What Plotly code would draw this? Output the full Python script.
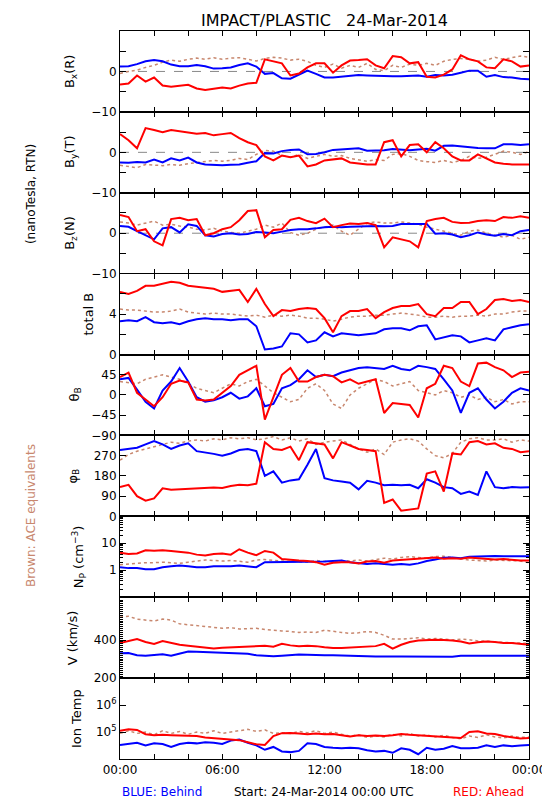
import plotly.graph_objects as go
from plotly.subplots import make_subplots

HOURS = [0, 0.5, 1, 1.5, 2, 2.5, 3, 3.5, 4, 4.5, 5, 5.5, 6, 6.5, 7, 7.5, 8, 8.5, 9, 9.5,
         10, 10.5, 11, 11.5, 12, 12.5, 13, 13.5, 14, 14.5, 15, 15.5, 16, 16.5, 17, 17.5,
         18, 18.5, 19, 19.5, 20, 20.5, 21, 21.5, 22, 22.5, 23, 23.5, 24]

BX_BEHIND = [1.2, 1.3, 1.8, 2.5, 2.8, 2.5, 1.7, 1.3, 1.3, 1.6, 1.3, 0.7, 0.8, 1.0, 1.6, 2.0, 1.2, -0.6, -0.4, -1.7, -1.8, -0.8, 0.2, -0.6, -1.5, -1.5, -1.3, -1.2, -0.9, -1.0, -1.1, -1.2, -1.2, -1.2, -1.1, -1.0, -1.3, -0.9, -1.0, -0.8, -0.3, 0.2, 0.2, -1.3, -0.9, -1.4, -1.5, -1.8, -1.9]
BX_AHEAD = [-3.2, -3.0, -1.0, -2.5, -1.5, -3.5, -3.8, -3.5, -3.3, -4.2, -4.6, -4.3, -4.0, -4.2, -3.5, -3.0, -2.8, 3.0, 2.5, 2.0, -1.0, -0.5, 1.0, 2.0, 2.0, -0.3, 1.5, 2.7, 2.8, 3.0, 1.5, 0.8, 3.8, 3.5, 2.0, 2.3, -1.3, -1.5, -0.8, 0.5, 4.0, 3.0, 2.5, 1.0, 0.8, 3.0, 2.5, 1.2, 1.5]
BX_ACE = [-0.5, 0.0, 0.3, 1.0, 1.5, 2.3, 2.8, 2.5, 3.0, 3.3, 3.0, 3.4, 3.0, 3.3, 3.4, 3.0, 2.6, 3.2, 3.5, 3.3, 2.8, 3.0, 2.5, 1.5, 1.0, 1.8, 0.8, 1.5, 1.0, 2.0, 0.5, 0.2, 1.5, 1.0, 1.8, 1.5, 2.0, 1.5, 2.5, 3.0, 3.2, 3.0, 2.5, 2.8, 3.5, 3.0, 3.4, 3.8, 3.5]

BY_BEHIND = [-2.5, -2.6, -2.4, -2.5, -1.8, -2.5, -1.5, -2.0, -1.3, -2.5, -3.0, -3.1, -3.2, -3.1, -3.0, -2.6, -2.2, -0.2, -0.3, 0.3, 0.6, 0.7, -0.5, -0.4, 0.0, 0.6, 0.7, 0.8, 1.0, 0.4, 0.4, 0.5, 0.8, 0.6, 0.5, 0.7, 0.9, 0.4, 1.6, 1.7, 1.5, 1.2, 1.1, 1.0, 1.0, 2.0, 2.0, 1.8, 2.0]
BY_AHEAD = [4.5, 3.0, 1.0, 6.0, 5.5, 5.0, 5.5, 5.2, 4.8, 4.6, 4.8, 4.2, 4.5, 4.8, 3.5, 2.5, 1.8, -1.0, -2.0, -0.8, -1.2, -0.8, -3.5, -3.0, -2.0, -1.8, -1.5, -2.5, -2.8, -3.0, -3.0, 2.5, 3.0, -1.0, 1.8, 2.0, 0.0, 2.5, 1.0, -1.0, -2.0, -2.0, -0.5, -1.5, -2.5, -2.8, -3.0, -3.0, -3.0]
BY_ACE = [-3.2, -3.5, -3.8, -3.0, -3.2, -3.3, -3.0, -3.2, -2.8, -2.5, -2.3, -2.0, -2.2, -2.0, -1.5, -1.8, -0.5, 0.5, 0.3, -0.8, -1.2, -0.5, -1.5, -1.0, -0.5, -1.0, -0.8, -1.5, -1.8, -2.2, -1.8, -2.0, -0.5, -0.3, -1.0, -2.0, -2.3, -2.5, -2.0, -2.5, -2.0, -1.0, -1.5, -1.2, -0.5, 0.3, 0.0, -0.5, 0.2]

BZ_BEHIND = [1.8, 1.6, 0.5, -0.5, -1.5, 1.2, 1.5, 0.2, 2.2, 1.8, -0.5, -0.8, -0.2, 0.0, -0.3, -0.2, 0.3, 0.2, 0.0, 0.4, 0.8, 1.0, 1.0, 1.2, 1.5, 1.6, 1.5, 1.6, 1.7, 1.7, 1.8, 1.7, 1.8, 2.3, 2.3, 2.3, 2.3, -0.1, 0.0, -0.3, -1.0, -0.5, 0.2, -0.3, -0.6, -0.2, -0.5, 0.5, 0.8]
BZ_AHEAD = [4.5, 4.0, 0.5, 1.0, -2.0, -3.0, 3.5, 3.8, 3.2, 3.5, -0.5, 0.0, 1.0, 1.5, 3.2, 5.5, 5.7, -1.0, 0.8, 1.0, 3.3, 3.8, 3.0, 2.5, 3.6, 1.5, 2.0, 2.4, 2.3, 2.5, 2.0, -3.5, -1.0, -1.5, -2.0, -3.5, 3.0, 3.5, 3.8, 2.8, 2.5, 2.6, 3.0, 3.2, 3.0, 4.0, 3.8, 4.2, 3.8]
BZ_ACE = [2.8, 2.5, 2.0, 2.5, 3.0, 2.0, 2.2, 1.8, 1.5, 1.0, 0.8, 1.2, 0.5, 0.2, 0.0, 0.5, 1.0, 2.0, 1.5, 2.5, 0.2, -0.5, 0.0, 1.0, 1.5, 2.0, 0.5, -0.5, 1.0, 2.5, 2.8, 2.5, 2.5, 2.8, 2.5, 2.2, 1.5, 1.0, 0.5, 0.0, -0.5, 0.5, 0.8, 0.0, -0.5, -1.0, -0.5, -1.5, -1.0]

BT_BEHIND = [3.3, 3.4, 3.3, 3.7, 3.2, 3.1, 3.2, 3.0, 3.3, 3.5, 3.6, 3.5, 3.5, 3.4, 3.5, 3.5, 2.8, 0.5, 0.6, 0.8, 2.1, 2.0, 1.2, 1.4, 2.2, 1.8, 2.1, 2.0, 1.9, 2.0, 2.1, 2.5, 2.6, 2.6, 2.4, 2.8, 2.9, 1.5, 1.7, 1.9, 1.8, 1.2, 1.4, 1.6, 1.4, 2.5, 2.7, 2.9, 3.0]
BT_AHEAD = [6.2, 6.0, 6.3, 6.8, 6.8, 7.0, 7.2, 7.1, 6.8, 6.7, 6.6, 6.5, 6.2, 6.3, 6.4, 5.2, 6.5, 5.0, 3.8, 4.4, 4.3, 4.5, 4.6, 4.5, 3.6, 2.2, 3.8, 4.3, 4.3, 4.5, 3.6, 4.2, 4.6, 4.8, 4.8, 5.0, 4.0, 3.8, 4.6, 4.6, 5.2, 5.2, 4.0, 4.5, 5.4, 5.5, 5.3, 5.4, 5.2]
BT_ACE = [4.5, 4.4, 4.4, 4.3, 4.2, 4.2, 4.3, 4.5, 4.2, 4.1, 4.0, 4.1, 4.0, 4.0, 3.9, 3.8, 3.9, 3.7, 3.9, 3.8, 3.9, 3.8, 3.6, 3.6, 3.5, 3.3, 3.5, 3.7, 3.8, 3.8, 3.9, 3.9, 4.0, 4.1, 4.0, 3.9, 3.7, 3.7, 3.8, 3.7, 3.8, 3.8, 3.9, 3.8, 4.0, 4.0, 4.2, 4.3, 4.3]

TH_BEHIND = [35, 38, 12, -15, -30, 10, 30, 60, 30, -5, -15, -12, -5, 5, -8, -3, 15, -25, -20, 15, 22, 35, 55, 40, 45, 42, 50, 55, 60, 62, 60, 58, 65, 58, 55, 65, 62, 58, 35, 10, -40, 5, 15, -10, -30, -15, 5, 15, 10]
TH_AHEAD = [40, 50, 5, -10, -25, -5, 25, 32, 28, -10, -12, -10, 5, 20, 45, 55, 65, -55, -5, 45, 60, 30, 30, 40, 45, 42, 28, 35, 25, 30, 35, -40, -18, -20, -22, -50, 15, 25, 65, 60, 30, 20, 70, 72, 62, 55, 40, 50, 52]
TH_ACE = [30, 28, 25, 35, 40, 45, 40, 35, 25, 15, 10, 5, 15, 25, 20, 30, 35, 20, 5, -5, -15, -10, 15, 25, 10, -20, -30, 0, 15, 25, 35, 30, 20, 25, 30, 10, 5, 0, 10, 5, -5, 0, -10, -5, -15, -10, -20, -15, -15]

PH_BEHIND = [295, 300, 305, 320, 335, 320, 300, 315, 325, 290, 285, 278, 270, 280, 295, 300, 290, 180, 200, 150, 160, 165, 230, 300, 170, 160, 155, 150, 120, 158, 150, 138, 140, 138, 140, 125, 165, 150, 130, 125, 100, 110, 95, 200, 130, 125, 130, 128, 130]
PH_AHEAD = [130, 140, 90, 70, 80, 125, 118, 120, 120, 122, 125, 128, 126, 135, 140, 138, 145, 330, 300, 295, 310, 250, 330, 325, 320, 258, 330, 315, 300, 295, 290, 60, 75, 25, 30, 35, 190, 200, 110, 280, 275, 330, 335, 320, 325, 305, 300, 285, 290]
PH_ACE = [250, 275, 290, 300, 310, 320, 330, 325, 335, 340, 335, 345, 340, 350, 345, 350, 340, 345, 355, 340, 350, 335, 345, 320, 330, 335, 340, 320, 300, 285, 300, 275, 330, 340, 345, 335, 300, 270, 260, 280, 330, 345, 350, 340, 340, 345, 330, 340, 335]

NP_BEHIND = [1.3, 1.2, 1.2, 1.1, 1.1, 1.3, 1.4, 1.5, 1.4, 1.3, 1.3, 1.4, 1.4, 1.4, 1.5, 1.4, 1.3, 2.0, 2.0, 2.0, 2.0, 2.0, 2.1, 2.0, 2.1, 2.2, 2.3, 2.0, 1.8, 1.7, 1.8, 1.7, 1.6, 1.7, 1.6, 1.8, 2.2, 2.5, 2.9, 3.0, 2.8, 3.2, 3.3, 3.4, 3.4, 3.3, 3.3, 3.2, 3.3]
NP_AHEAD = [4.5, 4.0, 4.2, 5.5, 5.3, 5.5, 5.2, 4.8, 4.5, 3.8, 3.5, 4.0, 4.2, 3.8, 6.0, 4.5, 3.6, 5.2, 4.5, 2.6, 2.4, 2.3, 2.2, 2.0, 1.6, 1.9, 2.0, 2.0, 1.8, 2.1, 2.2, 1.9, 2.3, 2.4, 2.5, 2.6, 2.8, 3.0, 2.7, 2.8, 2.7, 3.0, 2.8, 2.6, 2.5, 2.6, 2.4, 2.3, 2.3]
NP_ACE = [1.6, 1.7, 1.8, 1.9, 1.9, 2.0, 1.9, 1.8, 2.0, 2.2, 2.4, 2.3, 2.2, 2.3, 2.1, 2.0, 2.4, 2.5, 2.3, 2.2, 2.2, 2.1, 2.0, 2.3, 2.2, 2.0, 2.3, 2.2, 2.4, 2.2, 2.5, 2.8, 2.6, 3.0, 3.2, 3.0, 2.8, 3.2, 3.3, 3.0, 2.6, 2.4, 2.3, 2.2, 2.4, 2.3, 2.3, 2.2, 1.9]

V_BEHIND = [330, 332, 320, 318, 322, 325, 318, 330, 340, 338, 336, 333, 332, 330, 328, 328, 320, 318, 315, 318, 322, 324, 323, 320, 320, 320, 318, 318, 317, 315, 314, 315, 313, 313, 313, 312, 313, 314, 313, 312, 318, 318, 318, 317, 318, 317, 318, 318, 318]
V_AHEAD = [385, 395, 405, 390, 380, 395, 385, 375, 370, 365, 358, 356, 360, 362, 364, 366, 368, 370, 365, 380, 372, 368, 370, 368, 362, 358, 358, 360, 362, 365, 368, 380, 355, 375, 390, 398, 400, 402, 400, 398, 392, 382, 388, 392, 390, 385, 385, 380, 375]
V_ACE = [520, 525, 510, 505, 500, 510, 505, 485, 480, 475, 470, 465, 462, 465, 458, 460, 462, 455, 450, 448, 445, 440, 442, 440, 452, 445, 440, 435, 438, 445, 440, 425, 405, 405, 410, 412, 405, 408, 405, 400, 405, 402, 395, 395, 390, 388, 385, 385, 382]

# ion temperature in thousands of kelvin
T_BEHIND_KK = [33, 36, 40, 32, 38, 36, 28, 36, 40, 38, 42, 40, 36, 48, 53, 40, 32, 22, 28, 19, 18, 20, 38, 36, 28, 26, 25, 26, 25, 21, 19, 20, 17, 25, 22, 15, 26, 22, 24, 30, 25, 25, 26, 32, 28, 32, 30, 32, 33]
T_AHEAD_KK = [112, 126, 120, 83, 76, 79, 76, 74, 72, 71, 63, 60, 58, 52, 50, 42, 35, 33, 71, 91, 93, 89, 83, 89, 83, 85, 76, 69, 76, 72, 74, 71, 76, 85, 79, 76, 74, 71, 68, 63, 60, 100, 107, 89, 85, 71, 63, 58, 60]
T_ACE_KK = [89, 112, 89, 100, 79, 112, 89, 105, 83, 100, 89, 112, 89, 100, 112, 126, 105, 120, 89, 95, 89, 105, 95, 112, 89, 100, 83, 71, 79, 63, 71, 66, 83, 71, 89, 71, 79, 66, 76, 63, 56, 71, 63, 79, 66, 60, 71, 63, 66]

X_TICKS = [0, 6, 12, 18, 24]
X_TICK_TEXT = ["00:00", "06:00", "12:00", "18:00", "00:00"]

BLUE = "#0000ff"
RED = "#ff0000"
BROWN = "#c8876e"

T_BEHIND = [v * 1000 for v in T_BEHIND_KK]
T_AHEAD = [v * 1000 for v in T_AHEAD_KK]
T_ACE = [v * 1000 for v in T_ACE_KK]

panels = [
    (BX_ACE, BX_BEHIND, BX_AHEAD),
    (BY_ACE, BY_BEHIND, BY_AHEAD),
    (BZ_ACE, BZ_BEHIND, BZ_AHEAD),
    (BT_ACE, BT_BEHIND, BT_AHEAD),
    (TH_ACE, TH_BEHIND, TH_AHEAD),
    (PH_ACE, PH_BEHIND, PH_AHEAD),
    (NP_ACE, NP_BEHIND, NP_AHEAD),
    (V_ACE, V_BEHIND, V_AHEAD),
    (T_ACE, T_BEHIND, T_AHEAD),
]
for p in panels:
    for s in p:
        assert len(s) == len(HOURS), len(s)

fig = make_subplots(rows=9, cols=1, shared_xaxes=True, vertical_spacing=0)

for i, (ace, beh, ahd) in enumerate(panels, start=1):
    fig.add_trace(go.Scatter(x=HOURS, y=ace, mode="lines",
                             line=dict(color=BROWN, width=1.5, dash="dot")), row=i, col=1)
    fig.add_trace(go.Scatter(x=HOURS, y=beh, mode="lines",
                             line=dict(color=BLUE, width=2)), row=i, col=1)
    fig.add_trace(go.Scatter(x=HOURS, y=ahd, mode="lines",
                             line=dict(color=RED, width=2)), row=i, col=1)

M = "\u2212"
MINOR = dict(ticks="inside", ticklen=6, tickcolor="black", showgrid=False)
LOG_MINOR = [0.2, 0.3, 0.4, 0.5, 0.6, 0.7, 0.8, 0.9, 2, 3, 4, 5, 6, 7, 8, 9,
             20, 30, 40, 50, 60, 70, 80, 90]
yconf = [
    dict(range=[-10, 10], tickvals=[-10, 0], ticktext=[M + "10", "0"], minor=dict(MINOR, dtick=5)),
    dict(range=[-10, 10], tickvals=[-10, 0], ticktext=[M + "10", "0"], minor=dict(MINOR, dtick=5)),
    dict(range=[-10, 10], tickvals=[-10, 0], ticktext=[M + "10", "0"], minor=dict(MINOR, dtick=5)),
    dict(range=[0, 8], tickvals=[0, 4], ticktext=["0", "4"], minor=dict(MINOR, dtick=2)),
    dict(range=[-90, 90], tickvals=[-90, -45, 0, 45], ticktext=[M + "90", M + "45", "0", "45"]),
    dict(range=[0, 360], tickvals=[0, 90, 180, 270], ticktext=["0", "90", "180", "270"]),
    dict(type="log", range=[-1, 2], tickvals=[1, 10], ticktext=["1", "10"],
         minor=dict(ticks="inside", ticklen=3, tickcolor="black", showgrid=False,
                    tickmode="array", tickvals=LOG_MINOR)),
    dict(range=[200, 625], tickvals=[200, 400], ticktext=["200", "400"],
         minor=dict(ticks="inside", ticklen=3, dtick=10, tickcolor="black", showgrid=False)),
    dict(type="log", range=[4, 7], tickvals=[1e5, 1e6],
         ticktext=["10<sup>5</sup>", "10<sup>6</sup>"]),
]

for i, yc in enumerate(yconf, start=1):
    fig.update_yaxes(row=i, col=1, ticks="inside", ticklen=6, tickcolor="black",
                     showline=True, linecolor="black", linewidth=1, mirror="ticks",
                     showgrid=False, zeroline=False, tickmode="array",
                     tickfont=dict(size=12, color="black"), **yc)
    fig.update_xaxes(row=i, col=1, range=[0, 24], tickmode="array", tickvals=X_TICKS,
                     ticktext=X_TICK_TEXT, ticks="inside", ticklen=5, tickcolor="black",
                     minor=dict(ticks="inside", ticklen=5, dtick=2, tickcolor="black", showgrid=False),
                     showline=True, linecolor="black", linewidth=1, mirror="ticks",
                     showgrid=False, zeroline=False, showticklabels=(i == 9),
                     tickfont=dict(size=12, color="black"))

for r in (1, 2, 3):
    fig.add_hline(y=0, line=dict(color="#888888", width=1, dash="dash"), layer="below", row=r, col=1)

L, R, T, B = 112, 526, 23, 751
W, H = R - L, B - T


def px_x(p):
    return (p - L) / W


def px_y(p):
    return (B - p) / H


ann = []


def text(x, y, s, size=12, color="black", angle=0):
    ann.append(dict(x=px_x(x), y=px_y(y), xref="paper", yref="paper", text=s, showarrow=False,
                    textangle=angle, xanchor="center", yanchor="middle",
                    font=dict(size=size, color=color)))


text(319, 12, "IMPACT/PLASTIC   24-Mar-2014", size=16)

ytitles = [
    ("B<sub>x</sub>(R)", 62),
    ("B<sub>y</sub>(T)", 62),
    ("B<sub>z</sub>(N)", 62),
    ("total B", 80),
    ("\u03b8<sub>B</sub>", 66),
    ("\u03c6<sub>B</sub>", 65),
    ("N<sub>P</sub> (cm<sup>\u22123</sup>)", 70),
    ("V (km/s)", 64),
    ("Ion Temp", 68),
]
for i, (s, xp) in enumerate(ytitles, start=1):
    dom = fig.layout["yaxis" if i == 1 else "yaxis%d" % i].domain
    yc = (dom[0] + dom[1]) / 2
    ann.append(dict(x=px_x(xp), y=yc, xref="paper", yref="paper", text=s, showarrow=False,
                    textangle=-90, xanchor="center", yanchor="middle",
                    font=dict(size=13, color="black")))

text(22, 186, "(nanoTesla, RTN)", size=12, angle=-90)
text(22, 508, "Brown: ACE equivalents", size=12, color=BROWN, angle=-90)

text(155, 784, "BLUE: Behind", size=12, color=BLUE)
text(318, 784, "Start: 24-Mar-2014 00:00 UTC", size=12)
text(485, 784, "RED: Ahead", size=12, color=RED)

fig.update_layout(
    width=550, height=800,
    margin=dict(l=L, r=550 - R, t=T, b=800 - B),
    paper_bgcolor="white", plot_bgcolor="white",
    showlegend=False,
    font=dict(family="DejaVu Sans", size=12, color="black"),
    annotations=ann,
)

fig.write_html("out.html")
